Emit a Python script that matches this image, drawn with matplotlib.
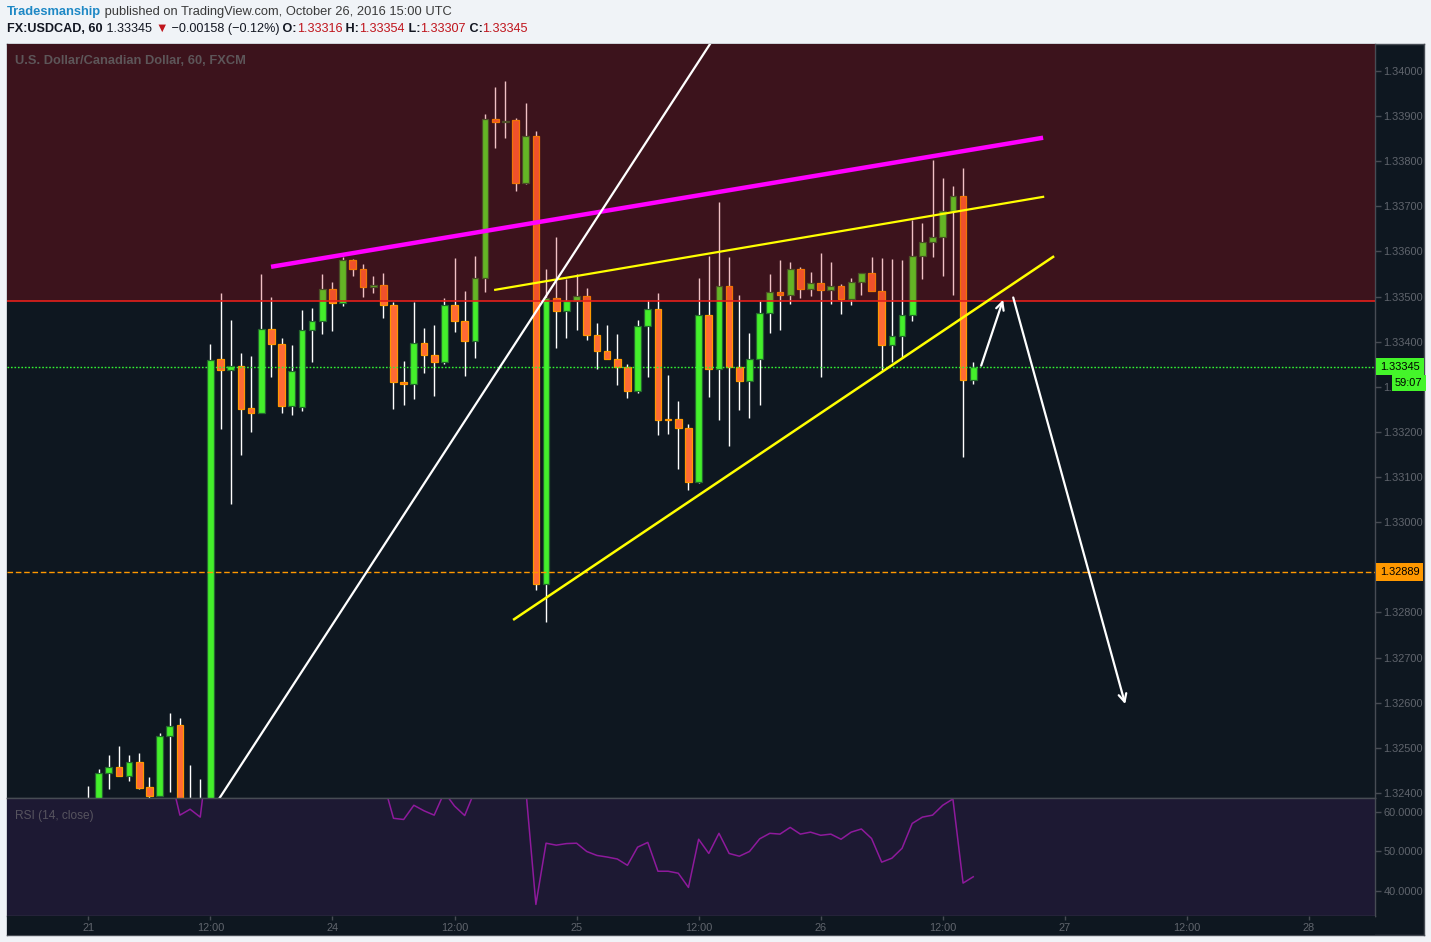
import matplotlib
matplotlib.use("Agg")
import matplotlib.pyplot as plt
from matplotlib.transforms import blended_transform_factory

plt.rcParams["font.family"] = ["Liberation Sans", "DejaVu Sans"]

# hourly USDCAD bars, Oct 21 00:00 .. Oct 26 15:00 (bar index 0..87)
OPEN = [1.32380, 1.32385, 1.32444, 1.32457, 1.32437, 1.32468, 1.32413, 1.32394, 1.32527, 1.32551,
        1.32370, 1.32380, 1.32372, 1.33361, 1.33338, 1.33346, 1.33252, 1.33241, 1.33429, 1.33395,
        1.33257, 1.33256, 1.33426, 1.33446, 1.33517, 1.33486, 1.33580, 1.33561, 1.33521, 1.33526,
        1.33482, 1.33311, 1.33307, 1.33398, 1.33371, 1.33355, 1.33482, 1.33446, 1.33401, 1.33541,
        1.33894, 1.33887, 1.33892, 1.33751, 1.33856, 1.32862, 1.33496, 1.33469, 1.33490, 1.33501,
        1.33415, 1.33380, 1.33362, 1.33344, 1.33290, 1.33434, 1.33473, 1.33228, 1.33228, 1.33209,
        1.33089, 1.33460, 1.33340, 1.33523, 1.33344, 1.33313, 1.33362, 1.33464, 1.33511, 1.33503,
        1.33561, 1.33516, 1.33529, 1.33515, 1.33524, 1.33494, 1.33532, 1.33552, 1.33513, 1.33392,
        1.33413, 1.33460, 1.33590, 1.33621, 1.33632, 1.33690, 1.33723, 1.33316]
HIGH = [1.32416, 1.32454, 1.32485, 1.32504, 1.32485, 1.32489, 1.32435, 1.32533, 1.32577, 1.32566,
        1.32462, 1.32431, 1.33394, 1.33507, 1.33449, 1.33376, 1.33369, 1.33549, 1.33498, 1.33409,
        1.33392, 1.33471, 1.33475, 1.33551, 1.33533, 1.33588, 1.33584, 1.33573, 1.33546, 1.33553,
        1.33487, 1.33358, 1.33487, 1.33431, 1.33436, 1.33496, 1.33586, 1.33513, 1.33589, 1.33904,
        1.33965, 1.33977, 1.33895, 1.33930, 1.33868, 1.33562, 1.33631, 1.33539, 1.33549, 1.33520,
        1.33442, 1.33436, 1.33416, 1.33350, 1.33447, 1.33493, 1.33507, 1.33327, 1.33268, 1.33217,
        1.33541, 1.33591, 1.33710, 1.33588, 1.33504, 1.33420, 1.33490, 1.33551, 1.33580, 1.33577,
        1.33566, 1.33555, 1.33597, 1.33577, 1.33527, 1.33542, 1.33552, 1.33588, 1.33586, 1.33584,
        1.33580, 1.33670, 1.33662, 1.33803, 1.33763, 1.33746, 1.33785, 1.33354]
LOW = [1.32350, 1.32370, 1.32408, 1.32437, 1.32426, 1.32409, 1.32390, 1.32394, 1.32403, 1.32360,
       1.32350, 1.32360, 1.32365, 1.33206, 1.33040, 1.33150, 1.33199, 1.33241, 1.33321, 1.33243,
       1.33237, 1.33246, 1.33355, 1.33416, 1.33423, 1.33479, 1.33545, 1.33498, 1.33509, 1.33452,
       1.33250, 1.33260, 1.33272, 1.33330, 1.33279, 1.33350, 1.33421, 1.33324, 1.33363, 1.33510,
       1.33829, 1.33852, 1.33733, 1.33749, 1.32850, 1.32780, 1.33387, 1.33409, 1.33427, 1.33403,
       1.33339, 1.33362, 1.33304, 1.33276, 1.33287, 1.33321, 1.33193, 1.33195, 1.33117, 1.33071,
       1.33088, 1.33277, 1.33226, 1.33170, 1.33248, 1.33230, 1.33260, 1.33420, 1.33425, 1.33483,
       1.33496, 1.33501, 1.33321, 1.33483, 1.33461, 1.33481, 1.33503, 1.33512, 1.33338, 1.33356,
       1.33364, 1.33445, 1.33538, 1.33587, 1.33545, 1.33503, 1.33144, 1.33307]
CLOSE = [1.32385, 1.32444, 1.32457, 1.32437, 1.32468, 1.32412, 1.32394, 1.32527, 1.32549, 1.32370,
         1.32380, 1.32372, 1.33359, 1.33338, 1.33347, 1.33250, 1.33241, 1.33429, 1.33396, 1.33257,
         1.33335, 1.33426, 1.33446, 1.33517, 1.33486, 1.33580, 1.33561, 1.33521, 1.33525, 1.33481,
         1.33310, 1.33306, 1.33398, 1.33370, 1.33355, 1.33482, 1.33445, 1.33401, 1.33541, 1.33894,
         1.33887, 1.33890, 1.33751, 1.33856, 1.32862, 1.33496, 1.33469, 1.33490, 1.33501, 1.33414,
         1.33379, 1.33362, 1.33344, 1.33290, 1.33434, 1.33473, 1.33226, 1.33226, 1.33209, 1.33089,
         1.33460, 1.33340, 1.33523, 1.33344, 1.33313, 1.33362, 1.33464, 1.33510, 1.33503, 1.33561,
         1.33516, 1.33529, 1.33514, 1.33524, 1.33494, 1.33532, 1.33552, 1.33512, 1.33392, 1.33413,
         1.33460, 1.33590, 1.33621, 1.33632, 1.33690, 1.33723, 1.33315, 1.33345]
RSI = [65.0, 66.0, 68.0, 66.5, 68.0, 64.5, 64.0, 69.0, 70.0, 59.2,
       60.7, 58.7, 80.0, 79.0, 79.0, 75.0, 74.0, 77.0, 75.0, 70.0,
       72.0, 75.0, 75.5, 77.0, 76.0, 78.0, 77.0, 75.0, 75.0, 67.6,
       58.4, 58.1, 61.7, 60.3, 59.2, 65.0, 61.5, 59.1, 65.4, 76.0,
       75.5, 75.5, 70.0, 66.0, 36.6, 52.1, 51.6, 52.0, 52.1, 50.0,
       49.0, 48.6, 48.1, 46.5, 51.1, 52.3, 45.0, 45.0, 44.5, 40.9,
       53.1, 49.5, 54.6, 49.5, 48.8, 50.0, 53.2, 54.6, 54.4, 56.1,
       54.4, 54.9, 54.1, 54.4, 53.1, 54.9, 55.7, 53.3, 47.3, 48.3,
       50.8, 57.1, 58.7, 59.2, 61.7, 63.3, 42.0, 43.6]

XTICK_POS = [0, 12, 24, 36, 48, 60, 72, 84, 96, 108, 120]
XTICK_LABELS = ["21", "12:00", "24", "12:00", "25", "12:00", "26", "12:00", "27", "12:00", "28"]
PRICE_TICKS = [1.324, 1.325, 1.326, 1.327, 1.328, 1.329, 1.330, 1.331,
               1.332, 1.333, 1.334, 1.335, 1.336, 1.337, 1.338, 1.339, 1.340]
RSI_TICKS = [40, 50, 60]

ZONE_LOW = 1.3349
CUR_PRICE = 1.33345
LEVEL = 1.32889

# drawings (bar index, price)
MAGENTA_LINE = ([17.96, 93.87], [1.33566, 1.33852])
YELLOW_UPPER = ([40.0, 93.87], [1.33515, 1.33721])
YELLOW_LOWER = ([41.86, 94.85], [1.32785, 1.33588])
WHITE_LINE = ([13.05, 61.13], [1.32394, 1.34060])
ARROW_UP = ([87.78, 89.94], [1.33347, 1.33493])
ARROW_DOWN = ([90.93, 101.94], [1.33498, 1.32597])

W, H = 1431, 942
BG = "#0e1720"
GRID = "#474c54"
LBL = "#60656d"
AXSIZE = 7.9


def box(x0, y0, x1, y1):
    return [x0 / W, 1 - y1 / H, (x1 - x0) / W, (y1 - y0) / H]


def style_ax(a):
    a.set_facecolor(BG)
    for s in a.spines.values():
        s.set_color(GRID)
        s.set_linewidth(1)


fig = plt.figure(figsize=(W / 100, H / 100), dpi=100, facecolor="#f0f3f7")

frame = fig.add_axes(box(7, 44, 1424, 935))
style_ax(frame)
frame.set_xticks([])
frame.set_yticks([])

XLIM = (-8.0, 126.5)

# ---- price pane
ax = fig.add_axes(box(7, 44, 1375, 798))
style_ax(ax)
ax.spines["top"].set_visible(False)
ax.spines["left"].set_visible(False)
ax.set_xlim(*XLIM)
ax.set_ylim(1.323889, 1.340597)
ax.set_xticks([])
ax.yaxis.tick_right()
ax.set_yticks(PRICE_TICKS)
ax.set_yticklabels([f"{v:.5f}" for v in PRICE_TICKS])
ax.tick_params(axis="y", colors=GRID, labelcolor=LBL, length=4, width=1, pad=2, labelsize=AXSIZE)

for i in range(len(OPEN)):
    o, h, l, c = OPEN[i], HIGH[i], LOW[i], CLOSE[i]
    up = c >= o
    ax.vlines(i, l, h, color="white", lw=1, zorder=2)
    bottom = min(o, c)
    height = max(abs(c - o), 0.00002)
    ax.bar(i, height, bottom=bottom, width=0.66,
           color="#44ef2b" if up else "#ff6a35",
           edgecolor="#24662e" if up else "#ff9800", lw=0.9, zorder=3)

# resistance zone
ax.axhspan(ZONE_LOW, 1.35, facecolor=(0.78, 0.04, 0.08), alpha=0.25, lw=0, zorder=4)
ax.axhline(ZONE_LOW, color="#e3201b", lw=1.2, zorder=4.5)
ax.axhline(CUR_PRICE, color="#33f533", lw=1, ls=(0, (1.2, 1.3)), zorder=4.5)
ax.axhline(LEVEL, color="#ff9800", lw=1, ls=(0, (4, 2)), zorder=4.5)

ax.plot(*MAGENTA_LINE, color="#ff00ff", lw=3.2, zorder=6, solid_capstyle="butt")
ax.plot(*YELLOW_UPPER, color="#ffff00", lw=1.6, zorder=6)
ax.plot(*YELLOW_LOWER, color="#ffff00", lw=1.8, zorder=6)
ax.axline((WHITE_LINE[0][0], WHITE_LINE[1][0]), (WHITE_LINE[0][1], WHITE_LINE[1][1]),
          color="white", lw=1.6, zorder=6)
for xs, ys in (ARROW_UP, ARROW_DOWN):
    ax.annotate("", xy=(xs[1], ys[1]), xytext=(xs[0], ys[0]),
                arrowprops=dict(arrowstyle="->", color="white", lw=1.6,
                                mutation_scale=14, shrinkA=0, shrinkB=0), zorder=7)

ax.text(8 / 1368, 1 - 17 / 754, "U.S. Dollar/Canadian Dollar, 60, FXCM", transform=ax.transAxes,
        fontsize=9.3, fontweight="bold", color="#5d5659", va="center", ha="left", zorder=8)

blend = blended_transform_factory(ax.transAxes, ax.transData)
ax.text(1 + 5 / 1368, CUR_PRICE, f"{CUR_PRICE:.5f}", transform=blend, fontsize=AXSIZE, color="black",
        va="center", ha="left", clip_on=False, zorder=10,
        bbox=dict(boxstyle="square,pad=0.35", fc="#44f52a", ec="none"))
ax.annotate("59:07", xy=(1 + 20 / 1368, CUR_PRICE), xycoords=blend, xytext=(0, -16.5),
            textcoords="offset pixels", fontsize=AXSIZE, color="black", va="center", ha="left",
            annotation_clip=False, zorder=10,
            bbox=dict(boxstyle="square,pad=0.3", fc="#44f52a", ec="none"))
ax.text(1 + 5 / 1368, LEVEL, f"{LEVEL:.5f}", transform=blend, fontsize=AXSIZE, color="black",
        va="center", ha="left", clip_on=False, zorder=10,
        bbox=dict(boxstyle="square,pad=0.35", fc="#ff9800", ec="none"))

# ---- RSI pane
rx = fig.add_axes(box(7, 798, 1375, 916))
style_ax(rx)
rx.set_facecolor("#1d1933")
rx.spines["left"].set_visible(False)
rx.set_xlim(*XLIM)
rx.set_ylim(33.67, 63.54)
rx.set_xticks([])
rx.yaxis.tick_right()
rx.set_yticks(RSI_TICKS)
rx.set_yticklabels([f"{v:.4f}" for v in RSI_TICKS])
rx.tick_params(axis="y", colors=GRID, labelcolor=LBL, length=4, width=1, pad=2, labelsize=AXSIZE)
rx.plot(range(len(RSI)), RSI, color="#8e1a9c", lw=1.1)
rx.text(8 / 1368, 1 - 18 / 118, "RSI (14, close)", transform=rx.transAxes,
        fontsize=8.6, color="#57545f", va="center", ha="left")

# ---- time axis
sx = fig.add_axes(box(7, 916, 1375, 935))
sx.set_facecolor(BG)
for s in sx.spines.values():
    s.set_visible(False)
sx.set_xlim(*XLIM)
sx.set_yticks([])
sx.set_xticks(XTICK_POS)
sx.set_xticklabels(XTICK_LABELS)
sx.tick_params(axis="x", direction="in", top=True, bottom=False, labeltop=False, labelbottom=True,
               length=3, width=1, colors=GRID, labelcolor=LBL, labelsize=AXSIZE, pad=-8.5)

# ---- header
renderer = fig.canvas.get_renderer()


def draw_runs(x_px, y_px, runs, size):
    x = x_px / W
    for s, color, weight in runs:
        t = fig.text(x, 1 - y_px / H, s, color=color, fontsize=size, fontweight=weight,
                     va="center", ha="left")
        x += t.get_window_extent(renderer).width / fig.bbox.width


RED = "#c0141c"
DARK = "#131722"
draw_runs(7, 12, [("Tradesmanship", "#1e88c5", "bold"),
                  (" published on TradingView.com, October 26, 2016 15:00 UTC", "#3a3a3a", "normal")], 9.3)
draw_runs(7, 29, [("FX:USDCAD, 60", DARK, "bold"), (" 1.33345 ", DARK, "normal"),
                  ("\u25bc", RED, "normal"), (" \u22120.00158 (\u22120.12%)", DARK, "normal"),
                  (" O:", DARK, "bold"), ("1.33316", RED, "normal"),
                  (" H:", DARK, "bold"), ("1.33354", RED, "normal"),
                  (" L:", DARK, "bold"), ("1.33307", RED, "normal"),
                  (" C:", DARK, "bold"), ("1.33345", RED, "normal")], 9.1)

fig.savefig("out.png", dpi=100, facecolor=fig.get_facecolor())
